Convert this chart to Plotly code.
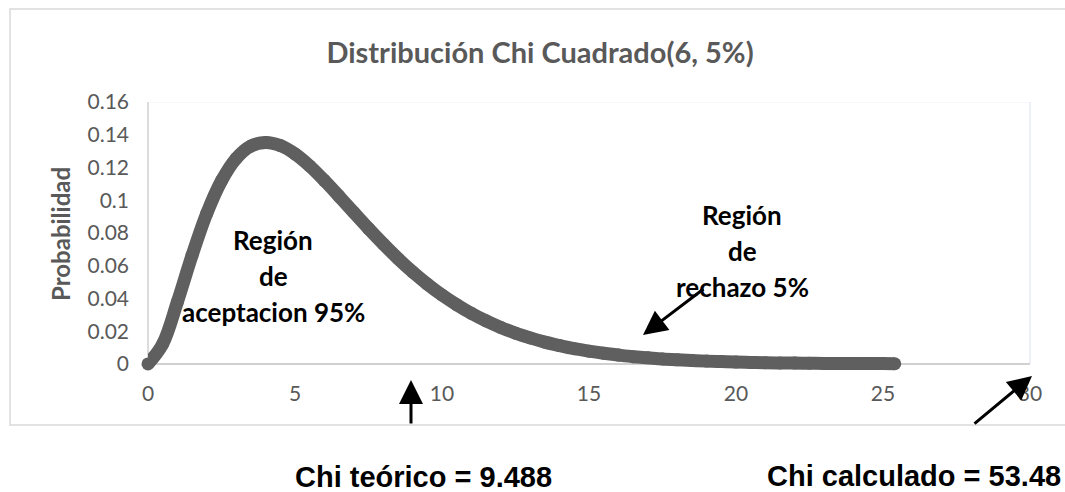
import plotly.graph_objects as go

# Values
x_vals = [0, 0.5, 1, 1.5, 2, 2.5, 3, 3.5, 4, 4.5, 5, 5.5, 6, 6.5, 7, 7.5, 8, 8.5, 9, 9.5,
          10, 10.5, 11, 11.5, 12, 12.5, 13, 13.5, 14, 14.5, 15, 15.5, 16, 16.5, 17, 17.5,
          18, 18.5, 19, 19.5, 20, 20.5, 21, 21.5, 22, 22.5, 23, 23.5, 24, 24.5, 25, 25.4]
prob_vals = [0, 0.0122, 0.0379, 0.0664, 0.0920, 0.1119, 0.1255, 0.1331, 0.1353, 0.1334,
             0.1283, 0.1209, 0.1120, 0.1024, 0.0925, 0.0827, 0.0733, 0.0644, 0.0562, 0.0488,
             0.0421, 0.0362, 0.0309, 0.0263, 0.0223, 0.0188, 0.0159, 0.0133, 0.0112, 0.0093,
             0.0078, 0.0065, 0.0054, 0.0044, 0.0037, 0.0030, 0.0025, 0.0021, 0.0017, 0.0014,
             0.0011, 0.0009, 0.0007, 0.0006, 0.0005, 0.0004, 0.0003, 0.0003, 0.0002, 0.0002,
             0.0002, 0.0001]
y_ticks = [0, 0.02, 0.04, 0.06, 0.08, 0.1, 0.12, 0.14, 0.16]
y_ticktext = ["0", "0.02", "0.04", "0.06", "0.08", "0.1", "0.12", "0.14", "0.16"]
x_ticks = [0, 5, 10, 15, 20, 25, 30]

title_text = "Distribución Chi Cuadrado(6, 5%)"
y_title = "Probabilidad"
accept_lines = ["Región", "de", "aceptacion 95%"]
reject_lines = ["Región", "de", "rechazo 5%"]
chi_teo_text = "Chi teórico = 9.488"
chi_calc_text = "Chi calculado = 53.48"

W, H = 1065, 492
L, R, T, Y0 = 148, 1030, 102, 364   # pixel positions: left, right, top(0.16), y=0
YMAX = 0.16
YMIN = -0.008
PPU = (Y0 - T) / YMAX                # pixels per unit
B = Y0 + (-YMIN) * PPU               # plot-area bottom in px

GRAY = "#5f5f5f"
TXT = "#595959"


def px_x(p):
    return (p - L) / (R - L)


def px_y(p):
    return (B - p) / (B - T)


fig = go.Figure()
fig.add_trace(go.Scatter(
    x=x_vals, y=prob_vals, mode="lines+markers",
    line=dict(color=GRAY, width=13, shape="spline"),
    marker=dict(color=GRAY, size=13),
    cliponaxis=False, hoverinfo="skip", showlegend=False,
))

LABEL_FONT = dict(family="Lato", size=26, color="#000000", weight="bold")
annotations = []
for t, yy in zip(accept_lines, [240, 276, 312]):
    annotations.append(dict(text=t, x=px_x(273), y=px_y(yy), xref="paper", yref="paper",
                            showarrow=False, xanchor="center", yanchor="middle", font=LABEL_FONT))
for t, yy in zip(reject_lines, [215, 251, 287]):
    annotations.append(dict(text=t, x=px_x(742), y=px_y(yy), xref="paper", yref="paper",
                            showarrow=False, xanchor="center", yanchor="middle", font=LABEL_FONT))
BOTTOM_FONT = dict(family="Liberation Sans", size=29, color="#000000", weight="bold")
annotations.append(dict(text=chi_teo_text, x=px_x(423), y=px_y(477), xref="paper", yref="paper",
                        showarrow=False, xanchor="center", yanchor="middle", font=BOTTOM_FONT))
annotations.append(dict(text=chi_calc_text, x=px_x(914), y=px_y(476), xref="paper", yref="paper",
                        showarrow=False, xanchor="center", yanchor="middle", font=BOTTOM_FONT))
annotations.append(dict(text=y_title, x=px_x(61), y=px_y(234), xref="paper", yref="paper",
                        showarrow=False, textangle=-90, xanchor="center", yanchor="middle",
                        font=dict(family="Lato", size=24, color=TXT, weight="bold")))
for tip, tail in [((411, 380), (411, 425)), ((1032, 376), (973, 425)), ((643, 335), (705, 288))]:
    annotations.append(dict(text="", x=px_x(tip[0]), y=px_y(tip[1]), xref="paper", yref="paper",
                            ax=tail[0] - tip[0], ay=tail[1] - tip[1], showarrow=True,
                            arrowhead=2, arrowsize=1.6, arrowwidth=3, arrowcolor="#000000"))

shapes = [
    # outer chart border
    dict(type="rect", xref="paper", yref="paper", x0=px_x(10), x1=px_x(1066), y0=px_y(425), y1=px_y(9),
         line=dict(color="#d9d9d9", width=1.5), fillcolor="rgba(0,0,0,0)", layer="below"),
    # faint top and right plot borders
    dict(type="line", xref="paper", yref="y", x0=0, x1=1, y0=YMAX, y1=YMAX,
         line=dict(color="#eef2f8", width=1), layer="below"),
    dict(type="line", xref="paper", yref="y", x0=1, x1=1, y0=0, y1=YMAX,
         line=dict(color="#dbe4f0", width=1), layer="below"),
    # left axis line (from 0 to 0.16)
    dict(type="line", xref="paper", yref="y", x0=0, x1=0, y0=0, y1=YMAX,
         line=dict(color="#d0d0d0", width=1.5), layer="below"),
]

fig.update_layout(
    width=W, height=H,
    margin=dict(l=L, r=W - R, t=T, b=H - B),
    paper_bgcolor="white", plot_bgcolor="white",
    title=dict(text=title_text, x=540 / W, y=1 - 53 / H, xanchor="center", yanchor="middle",
               font=dict(family="Lato", size=29, color=TXT, weight="bold")),
    xaxis=dict(range=[0, 30], tickvals=x_ticks, showgrid=False, zeroline=False,
               showline=False, ticks="", layer="below traces",
               ticklabelstandoff=2, tickfont=dict(family="Lato", size=21, color=TXT)),
    yaxis=dict(range=[YMIN, YMAX], tickvals=y_ticks, ticktext=y_ticktext, showgrid=False,
               zeroline=True, zerolinecolor="#d0d0d0", zerolinewidth=1.5,
               showline=False, ticks="", layer="below traces",
               ticklabelstandoff=18, tickfont=dict(family="Lato", size=21, color=TXT)),
    annotations=annotations, shapes=shapes,
)

fig.write_html("out.html", config={"displayModeBar": False},
               post_script="document.body.style.margin='0';")
